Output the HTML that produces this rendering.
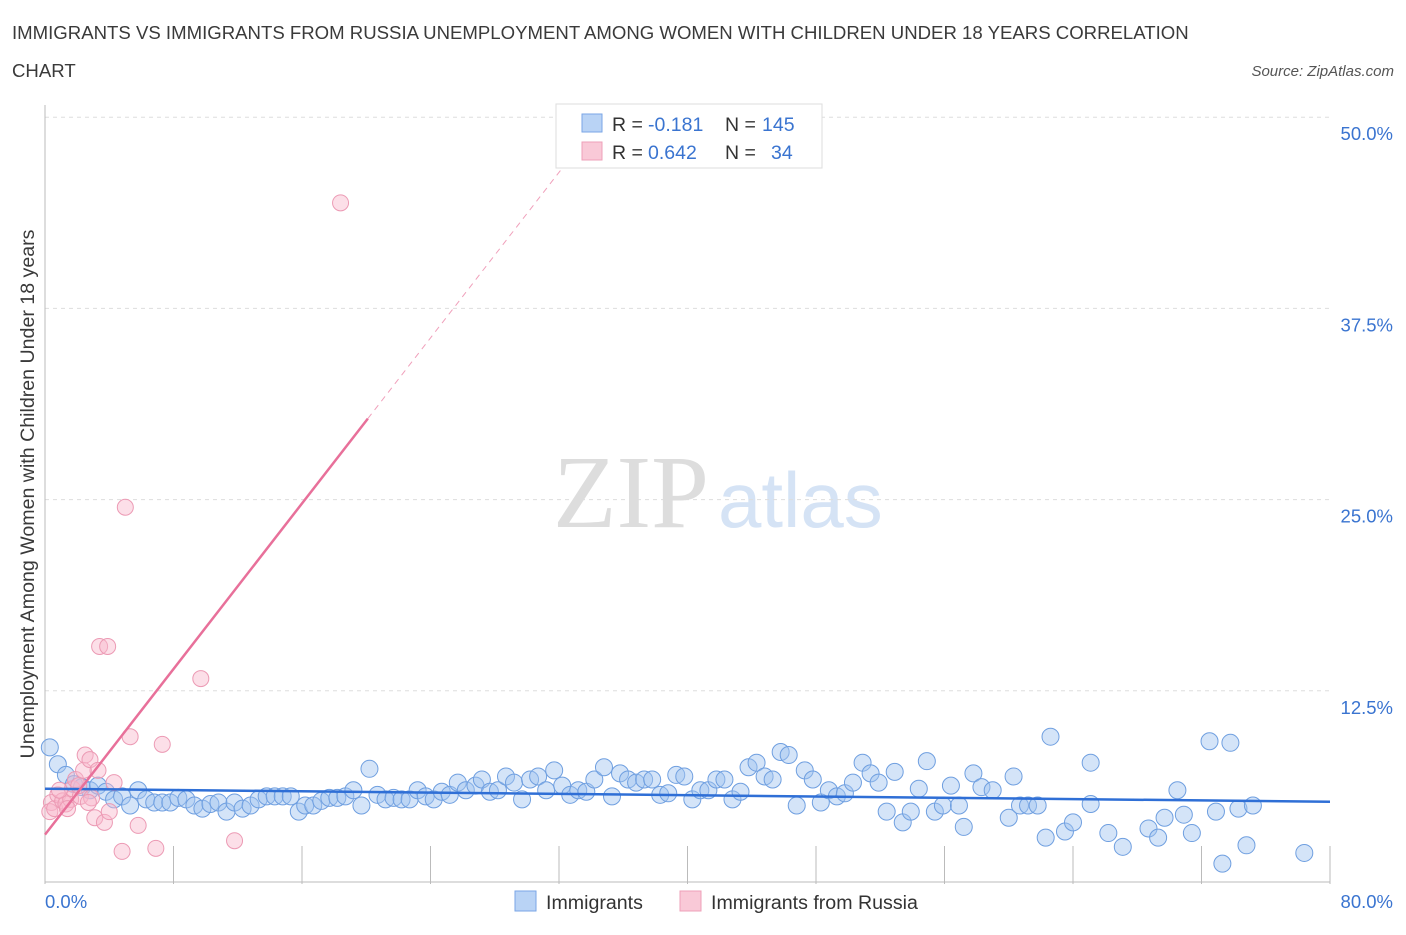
<!DOCTYPE html>
<html><head><meta charset="utf-8"><style>
body{margin:0;background:#fff;font-family:"Liberation Sans",sans-serif;}
</style></head><body>
<svg width="1406" height="930" xmlns="http://www.w3.org/2000/svg" font-family="Liberation Sans, sans-serif">
<text x="12" y="39" font-size="18.6" fill="#3a3a3a">IMMIGRANTS VS IMMIGRANTS FROM RUSSIA UNEMPLOYMENT AMONG WOMEN WITH CHILDREN UNDER 18 YEARS CORRELATION</text>
<text x="12" y="77" font-size="18.6" fill="#3a3a3a">CHART</text>
<text x="1394" y="76" font-size="15" fill="#555" text-anchor="end" font-style="italic">Source: ZipAtlas.com</text>
<text x="553" y="527" font-size="104" fill="#ddd" font-family="Liberation Serif, serif">ZIP</text>
<text x="718" y="527" font-size="78" fill="#d5e3f5">atlas</text>
<g id="grid"></g>
<g id="axes"></g>
<g id="marks"></g>
<text transform="translate(34,494) rotate(-90)" font-size="19.6" fill="#3a3a3a" text-anchor="middle">Unemployment Among Women with Children Under 18 years</text>
<text x="45" y="908" font-size="18.5" fill="#3a74d0">0.0%</text>
<text x="1393" y="908" font-size="18.5" fill="#3a74d0" text-anchor="end">80.0%</text>
<g>
<rect x="556" y="104" width="266" height="64" fill="#fff" stroke="#ddd"/>
<rect x="582" y="114" width="20" height="18" fill="#b9d3f5" stroke="#7aa6e6"/>
<rect x="582" y="142" width="20" height="18" fill="#f9c9d7" stroke="#eea0b8"/>
<text x="612" y="131" font-size="19.5" fill="#333">R =</text>
<text x="648" y="131" font-size="19.5" fill="#3a74d0">-0.181</text>
<text x="725" y="131" font-size="19.5" fill="#333">N =</text>
<text x="762" y="131" font-size="19.5" fill="#3a74d0">145</text>
<text x="612" y="159" font-size="19.5" fill="#333">R =</text>
<text x="648" y="159" font-size="19.5" fill="#3a74d0">0.642</text>
<text x="725" y="159" font-size="19.5" fill="#333">N =</text>
<text x="771" y="159" font-size="19.5" fill="#3a74d0">34</text>
</g>
<g>
<rect x="515" y="891" width="21" height="20" fill="#b9d3f5" stroke="#7aa6e6"/>
<text x="546" y="909" font-size="19.6" fill="#333">Immigrants</text>
<rect x="680" y="891" width="21" height="20" fill="#f9c9d7" stroke="#eea0b8"/>
<text x="711" y="909" font-size="19.6" fill="#333">Immigrants from Russia</text>
</g>
</svg>
<script>
const yTicks=[12.5,25,37.5,50];
const yTickLabels=["12.5%","25.0%","37.5%","50.0%"];
const xTicks=[0,8,16,24,32,40,48,56,64,72,80];
const blueX=[0.3,0.8,1.3,1.8,2.3,2.8,3.3,3.8,4.3,4.8,5.3,5.8,6.3,6.8,7.3,7.8,8.3,8.8,9.3,9.8,10.3,10.8,11.3,11.8,12.3,12.8,13.3,13.8,14.3,14.8,15.3,15.8,16.2,16.7,17.2,17.7,18.2,18.7,19.2,19.7,20.2,20.7,21.2,21.7,22.2,22.7,23.2,23.7,24.2,24.7,25.2,25.7,26.2,26.8,27.2,27.7,28.2,28.7,29.2,29.7,30.2,30.7,31.2,31.7,32.2,32.7,33.2,33.7,34.2,34.8,35.3,35.8,36.3,36.8,37.3,37.8,38.3,38.8,39.3,39.8,40.3,40.8,41.3,41.8,42.3,42.8,43.3,43.8,44.3,44.8,45.3,45.8,46.3,46.8,47.3,47.8,48.3,48.8,49.3,49.8,50.3,50.9,51.4,51.9,52.4,52.9,53.4,53.9,54.4,54.9,55.4,55.9,56.4,56.9,57.2,57.8,58.3,59.0,60.0,60.3,60.7,61.2,61.8,62.3,62.6,63.5,64.0,65.1,65.1,66.2,67.1,68.7,69.3,69.7,70.5,70.9,71.4,72.5,72.9,73.3,73.8,74.3,74.8,75.2,78.4];
const blueY=[8.8,7.7,7.0,6.4,6.2,6.0,6.3,5.9,5.4,5.6,5.0,6.0,5.4,5.2,5.2,5.2,5.5,5.4,5.0,4.8,5.1,5.2,4.6,5.2,4.8,5.0,5.4,5.6,5.6,5.6,5.6,4.6,5.0,5.0,5.3,5.5,5.5,5.6,6.0,5.0,7.4,5.7,5.4,5.5,5.4,5.4,6.0,5.6,5.4,5.9,5.7,6.5,6.0,6.3,6.7,5.9,6.0,6.9,6.5,5.4,6.7,6.9,6.0,7.3,6.3,5.7,6.0,5.9,6.7,7.5,5.6,7.1,6.7,6.5,6.7,6.7,5.7,5.8,7.0,6.9,5.4,6.0,6.0,6.7,6.7,5.4,5.9,7.5,7.8,6.9,6.7,8.5,8.3,5.0,7.3,6.7,5.2,6.0,5.6,5.8,6.5,7.8,7.1,6.5,4.6,7.2,3.9,4.6,6.1,7.9,4.6,5.0,6.3,5.0,3.6,7.1,6.2,6.0,4.2,6.9,5.0,5.0,5.0,2.9,9.5,3.3,3.9,7.8,5.1,3.2,2.3,3.5,2.9,4.2,6.0,4.4,3.2,9.2,4.6,1.2,9.1,4.8,2.4,5.0,1.9];
const pinkX=[0.4,0.3,0.6,0.8,1.1,1.3,1.6,1.7,1.9,2.2,2.4,2.5,2.8,2.9,3.1,3.3,3.7,4.0,4.3,4.8,5.0,3.4,3.9,5.3,5.8,6.9,7.3,9.7,11.8,18.4,0.9,1.4,2.7,2.1];
const pinkY=[5.2,4.6,4.8,5.7,5.3,5.1,5.4,6.1,6.7,5.6,7.3,8.3,8.0,5.5,4.2,7.3,3.9,4.6,6.5,2.0,24.5,15.4,15.4,9.5,3.7,2.2,9.0,13.3,2.7,44.4,6.0,4.8,5.2,6.3];
const blueTrend=[6.1,5.25];   // y at x=0 and x=80
const pinkTrend=[3.1,1.353];  // intercept, slope
const X=v=>45+v/80*1285, Y=v=>882-v/12.5*191.2;
const NS="http://www.w3.org/2000/svg";
function mk(tag,attrs,parent){const e=document.createElementNS(NS,tag);for(const k in attrs)e.setAttribute(k,attrs[k]);parent.appendChild(e);return e;}
const grid=document.getElementById('grid'),axes=document.getElementById('axes'),marks=document.getElementById('marks');
yTicks.forEach((t,i)=>{
 const l=mk('line',{x1:45,x2:1330,y1:Y(t),y2:Y(t),stroke:'#ddd','stroke-dasharray':'4,4'},grid);
 
 
 const tx=mk('text',{x:1393,y:Y(t)+23,'font-size':18.5,fill:'#3a74d0','text-anchor':'end'},grid);
 tx.textContent=yTickLabels[i];
 
 
});
const ya=mk('line',{x1:45,x2:45,y1:105,y2:882,stroke:'#bbb'},axes);


const xa=mk('line',{x1:45,x2:1330,y1:882,y2:882,stroke:'#bbb'},axes);


xTicks.forEach(t=>{
 const l=mk('line',{x1:X(t),x2:X(t),y1:846,y2:884,stroke:'#bbb'},axes);
 
 
});
blueX.forEach((x,i)=>{
 const c=mk('circle',{cx:X(x),cy:Y(blueY[i]),r:8.5,fill:'rgba(160,195,240,0.45)',stroke:'#6f9fe0','stroke-width':1},marks);
 
 
});
pinkX.forEach((x,i)=>{
 const c=mk('circle',{cx:X(x),cy:Y(pinkY[i]),r:8,fill:'rgba(248,185,205,0.45)',stroke:'#ec9ab4','stroke-width':1},marks);
 
 
});
const bl=mk('line',{x1:X(0),y1:Y(blueTrend[0]),x2:X(80),y2:Y(blueTrend[1]),stroke:'#2f6fd6','stroke-width':2.5},marks);


const xs=20.1, xe=(50-pinkTrend[0])/pinkTrend[1];
const pl=mk('line',{x1:X(0),y1:Y(pinkTrend[0]),x2:X(xs),y2:Y(pinkTrend[0]+pinkTrend[1]*xs),stroke:'#e8709a','stroke-width':2.5},marks);


const pd=mk('line',{x1:X(xs),y1:Y(pinkTrend[0]+pinkTrend[1]*xs),x2:X(xe),y2:Y(50),stroke:'#f0a0bb','stroke-width':1,'stroke-dasharray':'6,5'},marks);


</script>
</body></html>
